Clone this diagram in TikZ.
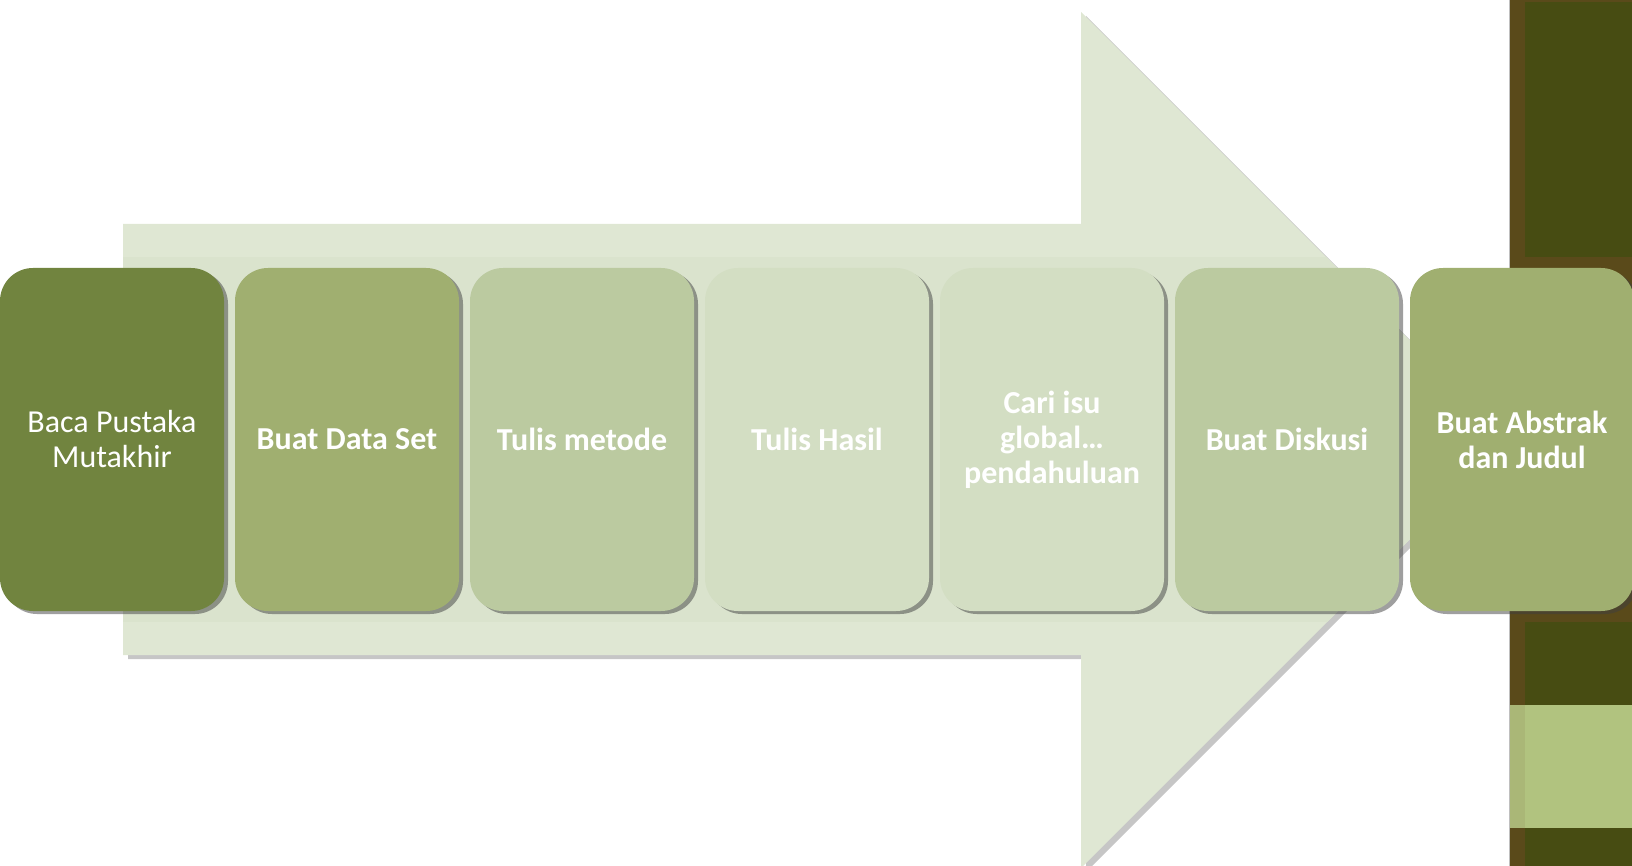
\documentclass[tikz,border=0pt]{standalone}
\usepackage{fontspec}
\setmainfont{Carlito}
\usetikzlibrary{shadows}
\definecolor{arrowc}{HTML}{DFE7D3}
\definecolor{bandc}{HTML}{DAE3CD}
\definecolor{cA}{HTML}{71843F}
\definecolor{cB}{HTML}{A0AF70}
\definecolor{cC}{HTML}{BBCAA0}
\definecolor{cD}{HTML}{D3DEC3}
\definecolor{sdark}{HTML}{474C12}
\definecolor{sbrown}{HTML}{5A4A1A}
\definecolor{slight}{HTML}{B1C37F}
\definecolor{slightl}{HTML}{AAB777}
\tikzset{
  x=0.5pt, y=-0.5pt,
  stepbox/.style={rectangle, rounded corners=16.5pt, minimum width=112pt, minimum height=171.5pt,
    inner sep=4pt, text=white, align=center, font=\fontsize{16}{17.5}\selectfont\bfseries,
    drop shadow={shadow xshift=2pt, shadow yshift=-1.5pt, opacity=0.5, fill=black!75}},
  arrowshadow/.style={drop shadow={shadow xshift=2.5pt, shadow yshift=-2pt, opacity=0.28, fill=black!80}},
}
\begin{document}
\begin{tikzpicture}
\useasboundingbox (0,0) rectangle (1632,866);
% right side strip
\fill[sbrown] (1510,0) rectangle (1632,866);
\fill[sdark] (1525,2) rectangle (1632,257);
\fill[sdark] (1525,622) rectangle (1632,705);
\fill[slightl] (1510,705) rectangle (1525,828);
\fill[slight] (1525,705) rectangle (1632,828);
\fill[sdark] (1525,828) rectangle (1632,866);
\draw[black!25, line width=0.5pt] (1509.5,0) -- (1509.5,866);
% big arrow
\fill[arrowc, arrowshadow] (123,224) -- (1081,224) -- (1081,12) -- (1509,440) -- (1081,868) -- (1081,655) -- (123,655) -- cycle;
\begin{scope}
  \clip (123,224) -- (1081,224) -- (1081,12) -- (1509,440) -- (1081,868) -- (1081,655) -- (123,655) -- cycle;
  \fill[bandc] (123,257) rectangle (1410,622);
\end{scope}
% steps
\node[stepbox, fill=cA, font=\fontsize{16}{17.5}\selectfont] (s1) at (112,439.5) {Baca Pustaka\\Mutakhir};
\node[stepbox, fill=cB] (s2) at (347,439.5) {Buat Data Set};
\node[stepbox, fill=cC] (s3) at (582,439.5) {Tulis metode};
\node[stepbox, fill=cD] (s4) at (817,439.5) {Tulis Hasil};
\node[stepbox, fill=cD] (s5) at (1052,439.5) {Cari isu\\global…\\pendahuluan};
\node[stepbox, fill=cC] (s6) at (1287,439.5) {Buat Diskusi};
\node[stepbox, fill=cB] (s7) at (1522,439.5) {Buat Abstrak\\dan Judul};
\end{tikzpicture}
\end{document}
